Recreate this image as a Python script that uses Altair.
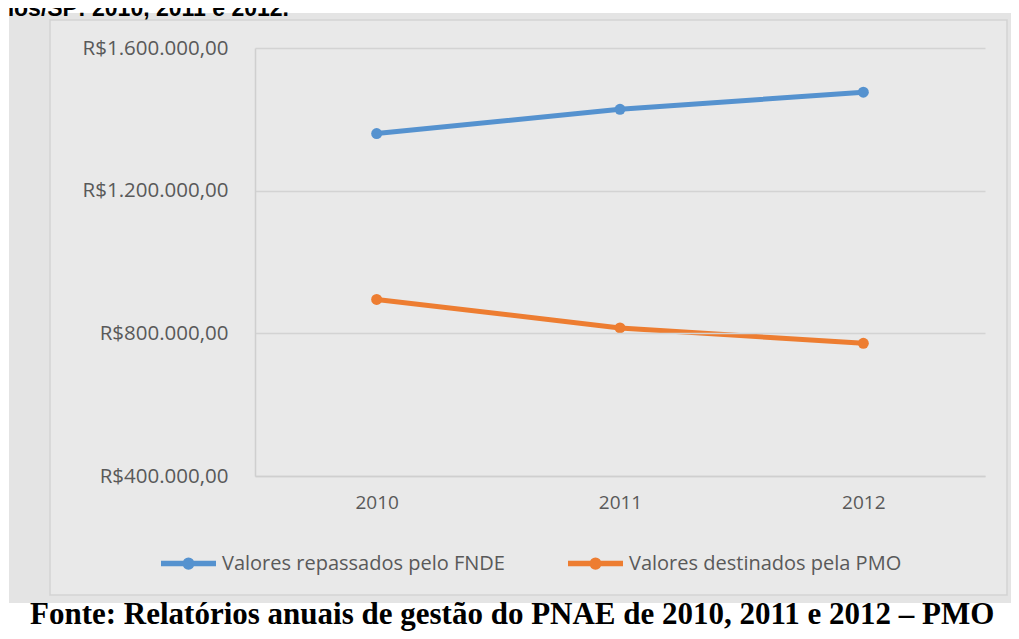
import altair as alt
import pandas as pd

# ---- data ----
years = ["2010", "2011", "2012"]
fnde_values = [1360000, 1428000, 1476000]
pmo_values = [895000, 815000, 772000]
series_names = ["Valores repassados pelo FNDE", "Valores destinados pela PMO"]
series_colors = ["#5592cf", "#ed7d31"]
y_ticks = [400000, 800000, 1200000, 1600000]
title_text = "nos/SP: 2010, 2011 e 2012."
source_text = "Fonte: Relatórios anuais de gestão do PNAE de 2010, 2011 e 2012 – PMO"

rows = []
for name, vals in zip(series_names, [fnde_values, pmo_values]):
    for yr, v in zip(years, vals):
        rows.append({"Ano": yr, "Valor": v, "Série": name})
df = pd.DataFrame(rows)
one = pd.DataFrame({"k": [0]})

W, H = 730, 428
FONT = "Open Sans"
TXT = "#595959"

outer = alt.Chart(one).mark_rect(color="#e4e4e4").encode(
    x=alt.value(-246), x2=alt.value(760), y=alt.value(-35), y2=alt.value(555)
)
inner = alt.Chart(one).mark_rect(color="#e9e9e9", stroke="#d3d3d3", strokeWidth=1.5).encode(
    x=alt.value(-205), x2=alt.value(752), y=alt.value(-28), y2=alt.value(547)
)
title = alt.Chart(one).mark_text(
    text=title_text, font="Liberation Sans", fontWeight="bold", fontSize=23,
    align="left", baseline="alphabetic", color="#000000"
).encode(x=alt.value(-255), y=alt.value(-32))
source = alt.Chart(one).mark_text(
    text=source_text, font="Liberation Serif", fontWeight="bold", fontSize=31,
    align="left", baseline="alphabetic", color="#000000"
).encode(x=alt.value(-225), y=alt.value(576))

label_expr = ("'R$' + replace(replace(replace(format(datum.value, ',.2f'), "
              "regexp(',', 'g'), '#'), regexp('[.]', 'g'), ','), regexp('#', 'g'), '.')")

color_scale = alt.Scale(domain=series_names, range=series_colors)
x_enc = alt.X("Ano:N", sort=years, scale=alt.Scale(type="point", padding=0.5),
              axis=alt.Axis(title=None, labelAngle=0, ticks=False, domain=True,
                            domainColor="#cfcfcf", domainWidth=1.5,
                            labelFont=FONT, labelFontSize=19, labelColor=TXT,
                            labelPadding=17, grid=False, zindex=1))
y_enc = alt.Y("Valor:Q", scale=alt.Scale(domain=[400000, 1600000], nice=False, zero=False),
              axis=alt.Axis(title=None, values=y_ticks, labelExpr=label_expr, ticks=False,
                            domain=True, domainColor="#cfcfcf", domainWidth=1.5,
                            grid=True, gridColor="#d3d3d3", gridWidth=1.5,
                            labelFont=FONT, labelFontSize=20.5, labelColor=TXT,
                            labelPadding=27, zindex=1))

symbol_path = ("M-1,0L1,0M-0.12,0A0.12,0.12,0,1,0,0.12,0A0.12,0.12,0,1,0,-0.12,0Z")

lines = alt.Chart(df).mark_line(strokeWidth=5).encode(
    x=x_enc, y=y_enc,
    color=alt.Color("Série:N", scale=color_scale, sort=series_names,
                    legend=alt.Legend(title=None, orient="none", direction="horizontal",
                                      legendX=-97, legendY=485,
                                      symbolType=symbol_path, symbolSize=3025,
                                      symbolStrokeWidth=5.5, labelOffset=3,
                                      columnPadding=52,
                                      labelFont=FONT, labelFontSize=20,
                                      labelColor=TXT, labelLimit=400)),
)
points = alt.Chart(df).mark_point(filled=True, size=120, opacity=1).encode(
    x=alt.X("Ano:N", sort=years),
    y=alt.Y("Valor:Q"),
    fill=alt.Fill("Série:N", scale=alt.Scale(domain=series_names, range=series_colors),
                  legend=None),
)

chart = alt.layer(outer, inner, title, source, lines, points).properties(
    width=W, height=H,
    autosize=alt.AutoSizeParams(type="none"),
    padding={"left": 247, "top": 40, "right": 26, "bottom": 155},
    background="#ffffff",
).configure_view(stroke=None)

chart.save("out.html", embed_options={"renderer": "svg", "actions": False})
